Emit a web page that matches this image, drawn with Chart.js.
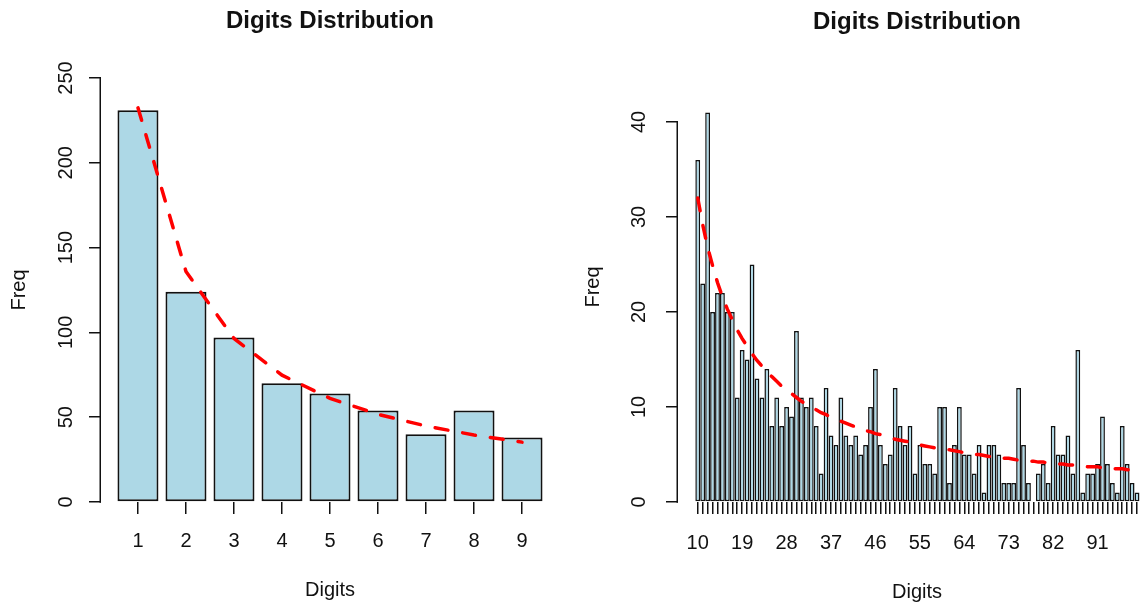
<!DOCTYPE html>
<html>
<head>
<meta charset="utf-8">
<title>Digits Distribution</title>
<script src="https://cdn.jsdelivr.net/npm/chart.js@4.4.1/dist/chart.umd.min.js"></script>
<style>
    html, body { margin: 0; padding: 0; background: #fff; overflow: hidden; }
    #wrap { position: relative; width: 1141px; height: 607px; overflow: hidden; }
    canvas { position: absolute; top: 0; }
    #left-chart { left: 0; width: 570px; height: 607px; }
    #right-chart { left: 570px; width: 590px; height: 607px; }
</style>
</head>
<body>
<div id="wrap">
    <canvas id="left-chart" width="570" height="607"></canvas>
    <canvas id="right-chart" width="590" height="607"></canvas>
</div>
<script>
const FONT = "'Liberation Sans', Arial, sans-serif";
const INK = '#111';

// first digit
const leftDigits = [1, 2, 3, 4, 5, 6, 7, 8, 9];
const leftFreq = [231, 124, 97, 70, 64, 54, 40, 54, 38];
const leftExpected = [232.4, 135.9, 96.4, 74.8, 61.1, 51.7, 44.8, 39.5, 35.3];
const leftYTicks = [0, 50, 100, 150, 200, 250];

// first two digits
const rightDigits = [
    10, 11, 12, 13, 14, 15, 16, 17, 18, 19,
    20, 21, 22, 23, 24, 25, 26, 27, 28, 29,
    30, 31, 32, 33, 34, 35, 36, 37, 38, 39,
    40, 41, 42, 43, 44, 45, 46, 47, 48, 49,
    50, 51, 52, 53, 54, 55, 56, 57, 58, 59,
    60, 61, 62, 63, 64, 65, 66, 67, 68, 69,
    70, 71, 72, 73, 74, 75, 76, 77, 78, 79,
    80, 81, 82, 83, 84, 85, 86, 87, 88, 89,
    90, 91, 92, 93, 94, 95, 96, 97, 98, 99
];
const rightFreq = [
    36, 23, 41, 20, 22, 22, 20, 20, 11, 16,
    15, 25, 13, 11, 14, 8, 11, 8, 10, 9,
    18, 11, 10, 11, 8, 3, 12, 7, 6, 11,
    7, 6, 7, 5, 6, 10, 14, 6, 4, 5,
    12, 8, 6, 8, 3, 6, 4, 4, 3, 10,
    10, 2, 6, 10, 5, 5, 3, 6, 1, 6,
    6, 5, 2, 2, 2, 12, 6, 2, 0, 3,
    4, 2, 8, 5, 5, 7, 3, 16, 1, 3,
    3, 4, 9, 4, 2, 1, 8, 4, 2, 1
];
const rightExpected = [
    32.0, 29.2, 26.8, 24.9, 23.1, 21.6, 20.3, 19.2, 18.1, 17.2,
    16.4, 15.6, 14.9, 14.3, 13.7, 13.2, 12.7, 12.2, 11.8, 11.4,
    11.0, 10.6, 10.3, 10.0, 9.7, 9.4, 9.2, 8.9, 8.7, 8.5,
    8.3, 8.1, 7.9, 7.7, 7.5, 7.4, 7.2, 7.1, 6.9, 6.8,
    6.6, 6.5, 6.4, 6.3, 6.2, 6.0, 5.9, 5.8, 5.7, 5.6,
    5.5, 5.5, 5.4, 5.3, 5.2, 5.1, 5.0, 5.0, 4.9, 4.8,
    4.8, 4.7, 4.6, 4.6, 4.5, 4.4, 4.4, 4.3, 4.3, 4.2,
    4.2, 4.1, 4.1, 4.0, 4.0, 3.9, 3.9, 3.8, 3.8, 3.7,
    3.7, 3.7, 3.6, 3.6, 3.5, 3.5, 3.5, 3.4, 3.4, 3.4
];
const rightXLabels = [10, 19, 28, 37, 46, 55, 64, 73, 82, 91];
const rightYTicks = [0, 10, 20, 30, 40];

const toPoints = (xs, ys) => xs.map((x, i) => ({ x: x, y: ys[i] }));

// R style y axis: the line only runs from the first to the last tick
const axisLine = {
    id: 'axisLine',
    afterDraw(chart) {
        const y = chart.scales.y;
        const ctx = chart.ctx;
        const x = Math.round(chart.chartArea.left) - 0.75;
        const top = y.getPixelForValue(y.ticks[y.ticks.length - 1].value) - 0.75;
        const bottom = y.getPixelForValue(y.ticks[0].value) + 0.75;
        ctx.save();
        ctx.strokeStyle = INK;
        ctx.lineWidth = 1.5;
        ctx.beginPath();
        ctx.moveTo(x, top);
        ctx.lineTo(x, bottom);
        ctx.stroke();
        ctx.restore();
    }
};

function makeChart(id, cfg) {
    const font = { family: FONT, size: 20 };
    return new Chart(document.getElementById(id), {
        type: 'bar',
        data: {
            datasets: [{
                type: 'line',
                data: toPoints(cfg.digits, cfg.expected),
                borderColor: '#ff0000',
                borderWidth: 3.5,
                borderDash: [13, 15],
                borderCapStyle: 'round',
                pointRadius: 0,
                tension: 0,
                fill: false,
                order: 0
            }, {
                type: 'bar',
                data: toPoints(cfg.digits, cfg.freq),
                backgroundColor: '#add8e6',
                borderColor: INK,
                borderWidth: cfg.barBorder,
                borderSkipped: false,
                barPercentage: 1,
                categoryPercentage: cfg.barFill,
                order: 1
            }]
        },
        options: {
            responsive: false,
            animation: false,
            devicePixelRatio: 1,
            layout: { padding: { left: 0, right: cfg.padRight, top: 0, bottom: 0 } },
            plugins: {
                legend: { display: false },
                tooltip: { enabled: false },
                title: {
                    display: true,
                    text: 'Digits Distribution',
                    fullSize: false,
                    color: INK,
                    font: { family: FONT, size: 24, weight: 'bold' },
                    padding: { top: cfg.titleTop, bottom: cfg.titleBottom }
                }
            },
            scales: {
                x: {
                    type: 'linear',
                    min: cfg.xMin,
                    max: cfg.xMax,
                    offset: false,
                    afterBuildTicks: axis => { axis.ticks = cfg.digits.map(v => ({ value: v })); },
                    afterFit: axis => { axis.height = 105; },
                    grid: { offset: false, drawOnChartArea: false, tickLength: 12, color: INK, lineWidth: 1.5 },
                    border: { display: false },
                    ticks: {
                        autoSkip: false,
                        maxRotation: 0,
                        minRotation: 0,
                        padding: cfg.xPad,
                        color: INK,
                        font: font,
                        callback: v => cfg.xLabels.includes(v) ? String(v) : ''
                    },
                    title: {
                        display: true,
                        text: 'Digits',
                        color: INK,
                        font: font,
                        padding: { top: 0, bottom: cfg.xTitleBottom }
                    }
                },
                y: {
                    min: 0,
                    max: cfg.yMax,
                    afterBuildTicks: axis => { axis.ticks = cfg.yTicks.map(v => ({ value: v })); },
                    afterFit: axis => { axis.width = cfg.yWidth; },
                    grid: { drawOnChartArea: false, tickLength: 12, color: INK, lineWidth: 1.5 },
                    border: { display: false },
                    ticks: {
                        autoSkip: false,
                        minRotation: 90,
                        maxRotation: 90,
                        crossAlign: 'center',
                        padding: cfg.yPad,
                        color: INK,
                        font: font
                    },
                    title: {
                        display: true,
                        text: 'Freq',
                        color: INK,
                        font: font,
                        padding: { top: cfg.yTitleLeft, bottom: 0 }
                    }
                }
            }
        },
        plugins: [axisLine]
    });
}

makeChart('left-chart', {
    digits: leftDigits, freq: leftFreq, expected: leftExpected,
    xLabels: leftDigits, yTicks: leftYTicks,
    xMin: 0.23, xMax: 9.77, yMax: 250,
    yWidth: 101, padRight: 11,
    barBorder: 2, barFill: 0.854,
    titleTop: 6.6, titleBottom: 42.6,
    xPad: 15.5, xTitleBottom: 4.3,
    yPad: 6.3, yTitleLeft: 7
});

makeChart('right-chart', {
    digits: rightDigits, freq: rightFreq, expected: rightExpected,
    xLabels: rightXLabels, yTicks: rightYTicks,
    xMin: 6.0, xMax: 102.84, yMax: 45.26,
    yWidth: 108, padRight: 4,
    barBorder: 1.5, barFill: 0.98,
    titleTop: 7.6, titleBottom: 35.6,
    xPad: 17, xTitleBottom: 2.3,
    yPad: 14.9, yTitleLeft: 11
});
</script>
</body>
</html>
